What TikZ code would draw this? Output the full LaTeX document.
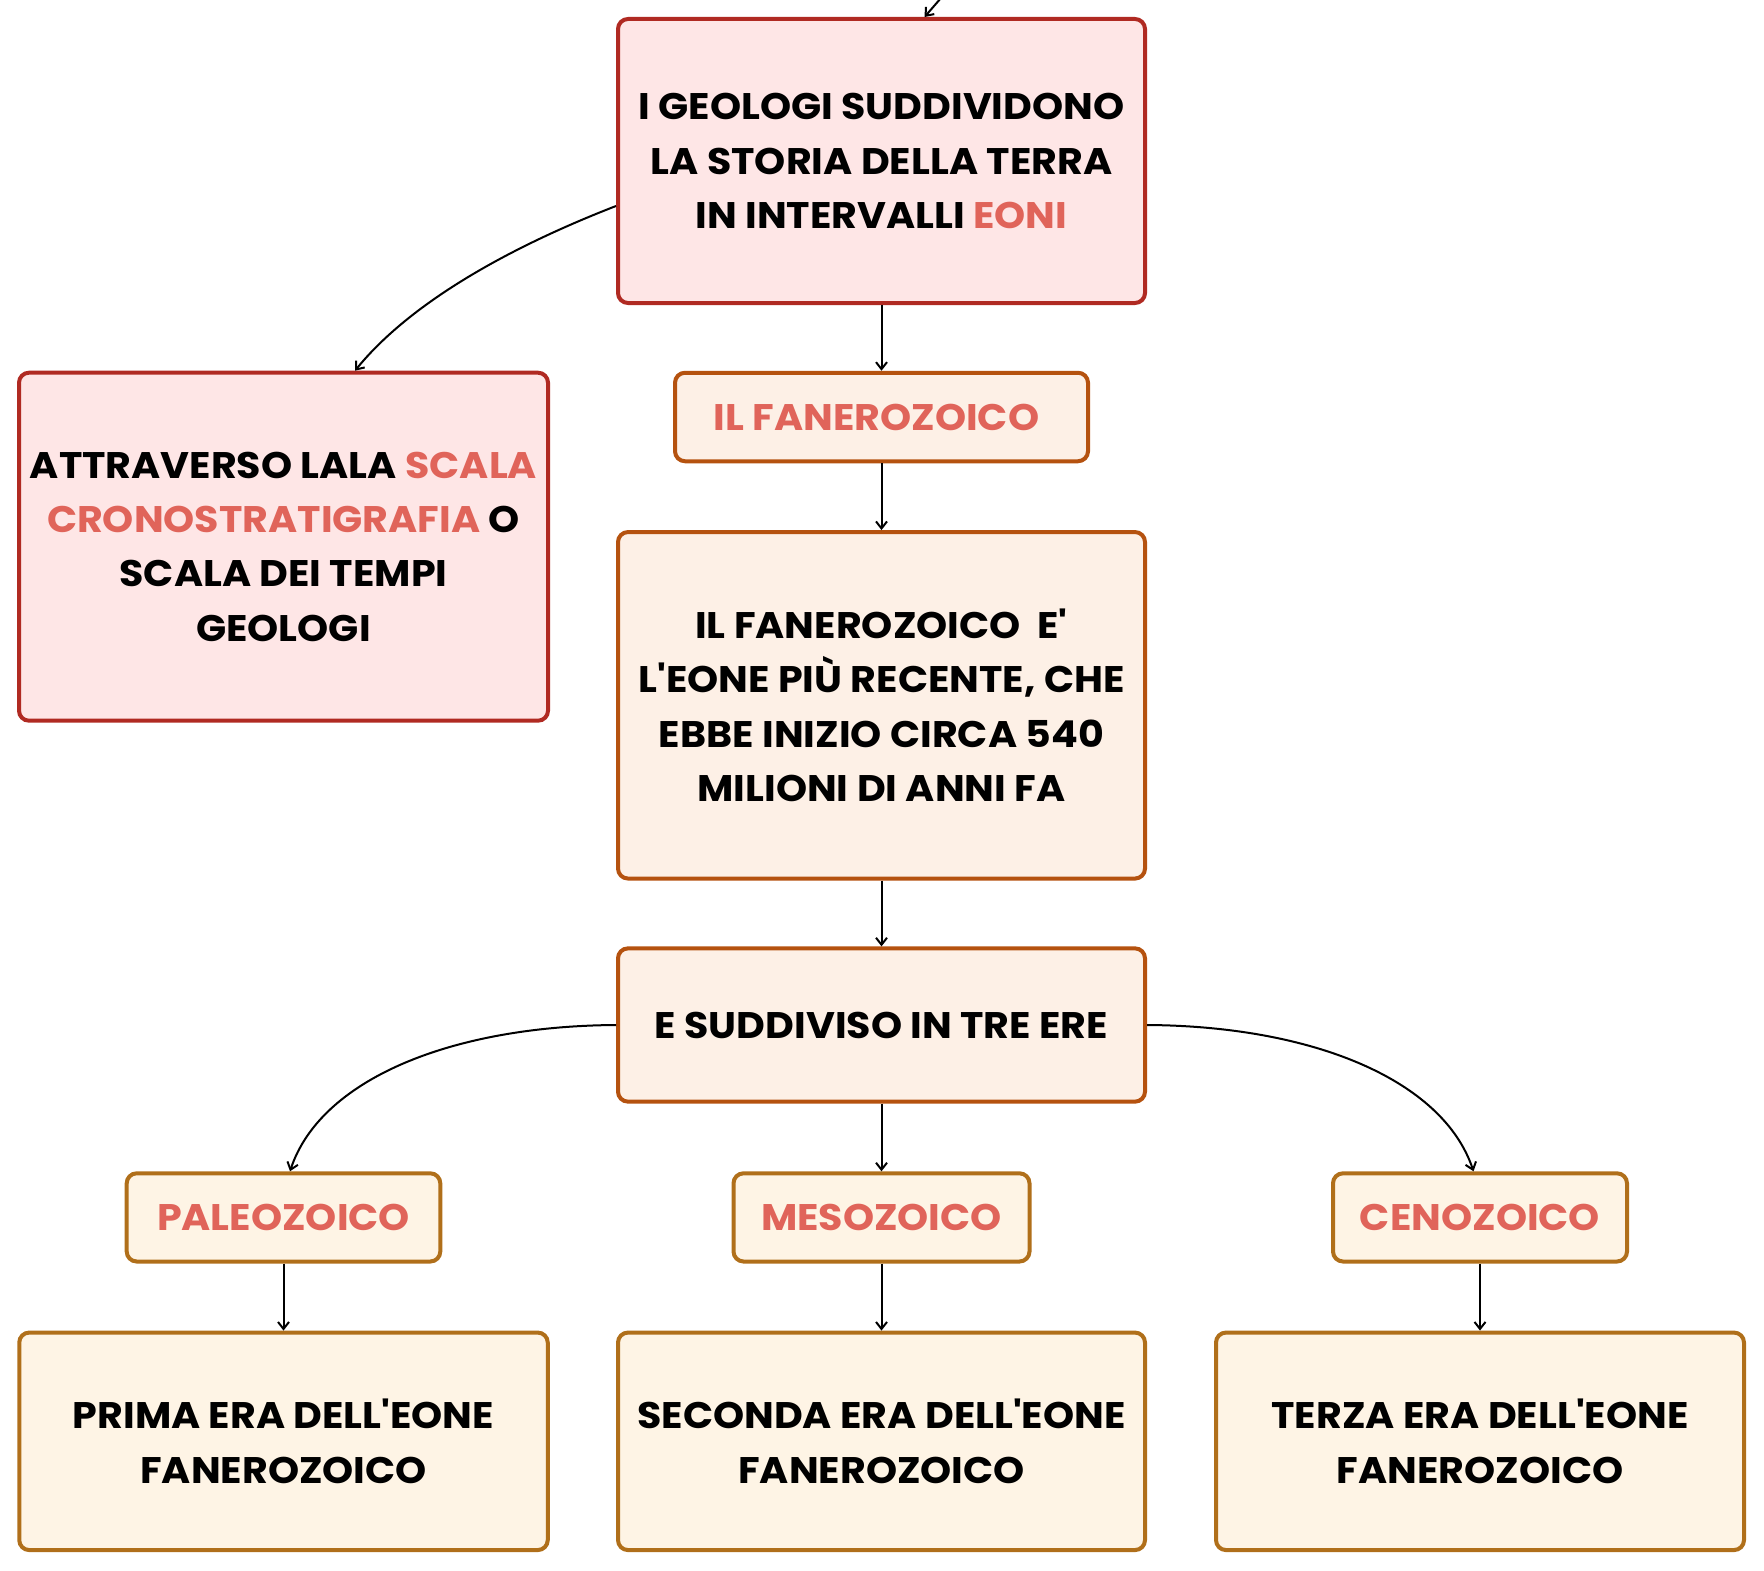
\documentclass[tikz,border=0pt]{standalone}
\usepackage{fontspec}
\setmainfont{Poppins}[Ligatures=TeXOff, FakeStretch=1.07]
\usetikzlibrary{arrows.meta}
\definecolor{redb}{HTML}{B02A22}
\definecolor{redf}{HTML}{FEE6E6}
\definecolor{orab}{HTML}{B5520F}
\definecolor{oraf}{HTML}{FDF0E6}
\definecolor{goldb}{HTML}{B06F1A}
\definecolor{goldf}{HTML}{FEF4E5}
\definecolor{salmon}{HTML}{E0645A}
\newcommand{\hl}[1]{\textcolor{salmon}{#1}}
\tikzset{
  box/.style={rectangle, rounded corners=10pt, line width=4pt, align=center, inner sep=0pt,
    font=\fontsize{37}{54.3}\selectfont\bfseries, text=black},
  redbox/.style={box, draw=redb, fill=redf},
  orabox/.style={box, draw=orab, fill=oraf},
  goldbox/.style={box, draw=goldb, fill=goldf},
  arr/.style={line width=2pt, -{Straight Barb[length=7pt,width=11pt]}}
}
\begin{document}
\begin{tikzpicture}[x=1pt,y=-1pt]
\useasboundingbox (0,0) rectangle (1764,1571);

\node[redbox, minimum width=527pt, minimum height=284pt] (b1) at (881.5,161)
  {I GEOLOGI SUDDIVIDONO\\LA STORIA DELLA TERRA\\IN INTERVALLI \hl{EONI}};
\node[redbox, minimum width=529pt, minimum height=348pt] (b2) at (283.5,546.7)
  {ATTRAVERSO LALA \hl{SCALA}\\\hl{CRONOSTRATIGRAFIA} O\\SCALA DEI TEMPI\\GEOLOGI};
\node[orabox, minimum width=413pt, minimum height=88.5pt] (b3) at (881.5,417) {};
\node[font=\fontsize{37}{54.3}\selectfont\bfseries, text=salmon] (t3) at (876.5,417) {IL FANEROZOICO};
\node[orabox, minimum width=527pt, minimum height=346.5pt] (b4) at (881.5,705.3)
  {IL FANEROZOICO\ \ E'\\L'EONE PIÙ RECENTE, CHE\\EBBE INIZIO CIRCA 540\\MILIONI DI ANNI FA};
\node[orabox, minimum width=527pt, minimum height=153.3pt] (b5) at (881.5,1025)
  {E SUDDIVISO IN TRE ERE};
\node[goldbox, minimum width=313.6pt, minimum height=88.2pt, text=salmon] (b6) at (283.5,1217.4) {PALEOZOICO};
\node[goldbox, minimum width=296pt, minimum height=88.2pt, text=salmon] (b7) at (881.5,1217.4) {MESOZOICO};
\node[goldbox, minimum width=294pt, minimum height=88.2pt, text=salmon] (b8) at (1480,1217.4) {CENOZOICO};
\node[goldbox, minimum width=528.5pt, minimum height=217.5pt] (b9) at (283.5,1441.3)
  {PRIMA ERA DELL'EONE\\FANEROZOICO};
\node[goldbox, minimum width=527pt, minimum height=217.5pt] (b10) at (881.5,1441.3)
  {SECONDA ERA DELL'EONE\\FANEROZOICO};
\node[goldbox, minimum width=528pt, minimum height=217.5pt] (b11) at (1480,1441.3)
  {TERZA ERA DELL'EONE\\FANEROZOICO};

\coordinate (top) at (941,-2);
\draw[arr] (top) -- ([xshift=43pt]b1.north);
\draw[arr] ([yshift=-45pt]b1.west) .. controls (495,253) and (405,309) .. ([xshift=71.5pt]b2.north);
\draw[arr] (b1.south) -- (b3.north);
\draw[arr] (b3.south) -- (b4.north);
\draw[arr] (b4.south) -- (b5.north);
\draw[arr] (b5.west) .. controls (450,1026) and (320,1080) .. ([xshift=6.5pt]b6.north);
\draw[arr] (b5.east) .. controls (1313,1026) and (1443,1080) .. ([xshift=-6.5pt]b8.north);
\draw[arr] (b5.south) -- (b7.north);
\draw[arr] (b6.south) -- (b9.north);
\draw[arr] (b7.south) -- (b10.north);
\draw[arr] (b8.south) -- (b11.north);
\end{tikzpicture}
\end{document}
